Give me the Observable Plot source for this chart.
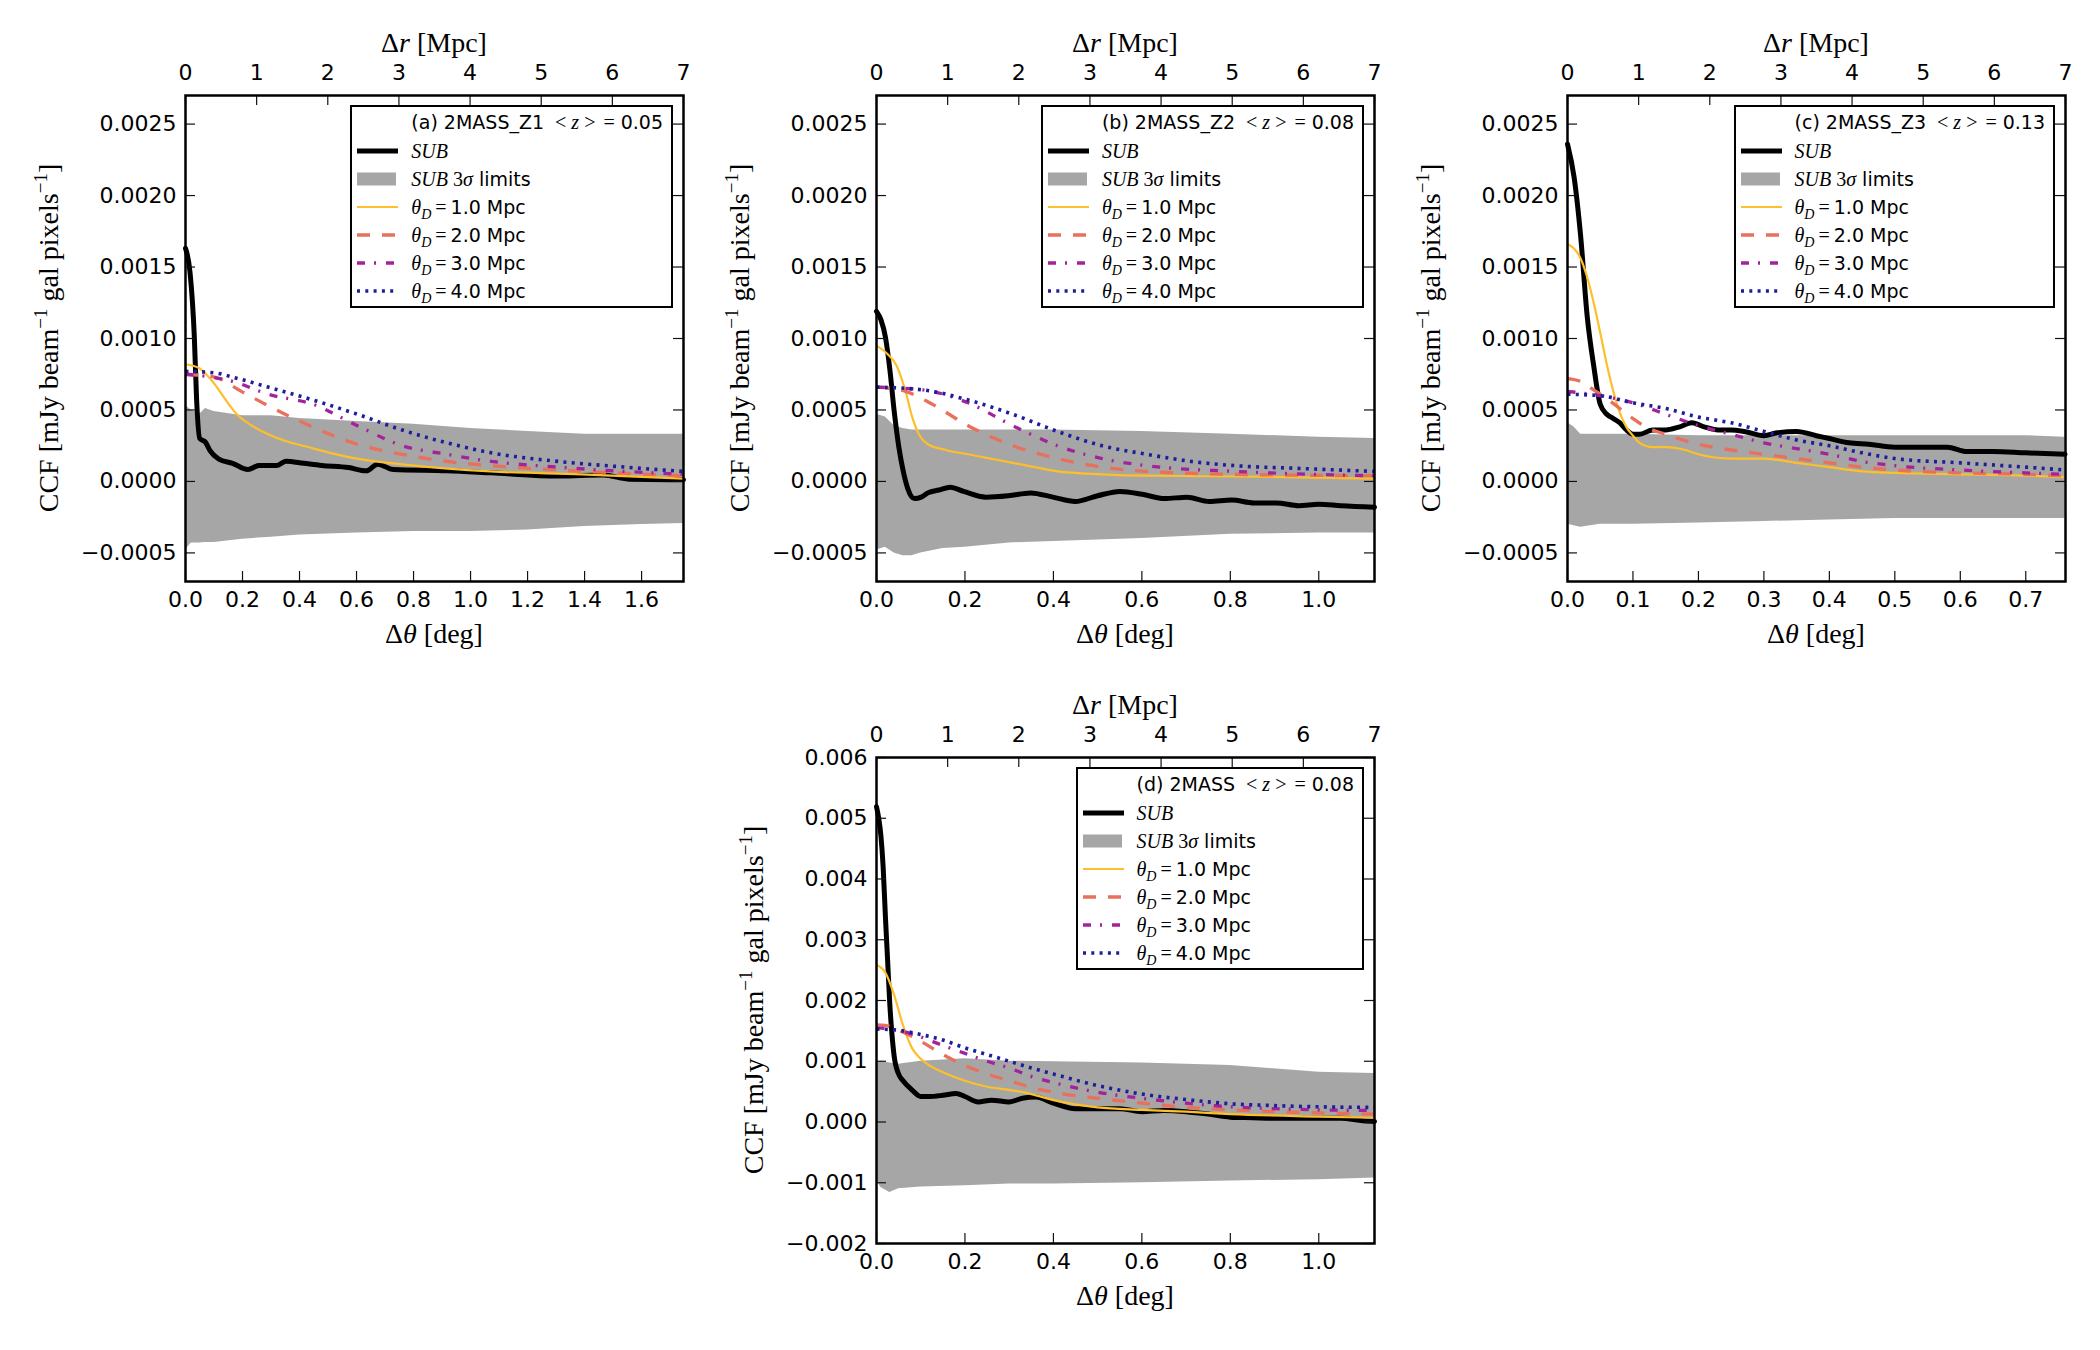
<!DOCTYPE html>
<html>
<head>
<meta charset="utf-8">
<script src="https://cdn.jsdelivr.net/npm/d3@7"></script>
<script src="https://cdn.jsdelivr.net/npm/@observablehq/plot@0.6"></script>
<style>
  body { margin: 0; background: #fff; }
  #fig { position: relative; width: 2100px; height: 1350px; background: #fff; overflow: hidden; color: #000; font-family: "DejaVu Sans", sans-serif; }
  .panel { position: absolute; }
  .lab { position: absolute; font-family: "Liberation Serif", serif; font-size: 28px; white-space: nowrap; transform: translate(-50%, -50%); line-height: 1; }
  .lab.rot { transform: translate(-50%, -50%) rotate(-90deg); }
  .lab sup { font-size: 0.68em; vertical-align: 0.6em; line-height: 0; }
  .legend { position: absolute; border: 2px solid #000; background: #fff; padding: 0 8px 1px 5px; font-family: "DejaVu Sans", sans-serif; font-size: 19px; }
  .legend .row { display: flex; align-items: center; height: 28px; white-space: nowrap; }
  .legend .row.first { height: 30px; }
  .legend .hd { width: 41px; height: 28px; margin-right: 13px; flex: none; display: block; }
  .m { font-family: "Liberation Serif", serif; font-size: 20px; }
  .legend sub { font-size: 0.7em; vertical-align: -0.35em; line-height: 0; }
  .gap { display: inline-block; }
</style>
</head>
<body>
<div id="fig"></div>
<script>
// ---- shared axis ticks ----
const mpcTicks = [0, 1, 2, 3, 4, 5, 6, 7];
const yTicksSmall = [-0.0005, 0, 0.0005, 0.001, 0.0015, 0.002, 0.0025];
const yTicksAll = [-0.002, -0.001, 0, 0.001, 0.002, 0.003, 0.004, 0.005, 0.006];
const xTicksA = [0, 0.2, 0.4, 0.6, 0.8, 1.0, 1.2, 1.4, 1.6];
const xTicksB = [0, 0.2, 0.4, 0.6, 0.8, 1.0];
const xTicksC = [0, 0.1, 0.2, 0.3, 0.4, 0.5, 0.6, 0.7];
const modelNames = ["1.0", "2.0", "3.0", "4.0"];

// ---- (a) 2MASS_Z1 ----
const subA = [[0,0.00163],[0.016,0.00146],[0.031,0.00101],[0.039,0.00057],[0.05,0.0003],[0.07,0.000275],[0.086,0.000215],[0.117,0.000156],[0.165,0.000127],[0.219,0.000083],[0.258,0.000112],[0.321,0.000112],[0.352,0.000142],[0.415,0.000127],[0.478,0.000112],[0.572,0.000097],[0.634,0.000074],[0.674,0.000121],[0.729,0.000083],[0.917,0.000074],[1.073,0.00006],[1.308,0.000038],[1.465,0.000045],[1.559,0.000015],[1.747,0.000012]];
const bandXA = [0, 0.02, 0.05, 0.07, 0.1, 0.2, 0.3, 0.4, 0.6, 0.8, 1.0, 1.2, 1.4, 1.6, 1.747];
const bandHiA = [0.00053, 0.0005, 0.00047, 0.00051, 0.00049, 0.00046, 0.00046, 0.00044, 0.00042, 0.0004, 0.00037, 0.00035, 0.00033, 0.00033, 0.00033];
const bandLoA = [-0.00048, -0.00043, -0.00043, -0.000428, -0.000428, -0.000404, -0.00039, -0.000375, -0.00036, -0.000351, -0.000351, -0.00034, -0.000316, -0.000301, -0.000295];
const mod1A = [[0,0.00082],[0.05,0.00079],[0.086,0.00072],[0.18,0.00047],[0.29,0.00033],[0.45,0.00023],[0.6,0.00016],[0.76,0.00012],[0.92,0.00009],[1.07,0.00007],[1.39,0.00005],[1.747,0.00002]];
const mod2A = [[0,0.00075],[0.102,0.00073],[0.196,0.00063],[0.29,0.00053],[0.447,0.00038],[0.603,0.00026],[0.76,0.00019],[0.917,0.00014],[1.073,0.00011],[1.308,0.00008],[1.747,0.00004]];
const mod3A = [[0,0.00075],[0.165,0.0007],[0.29,0.00061],[0.447,0.00054],[0.603,0.00039],[0.76,0.00025],[0.917,0.00019],[1.073,0.00014],[1.308,0.0001],[1.747,0.00005]];
const mod4A = [[0,0.00077],[0.102,0.00076],[0.165,0.00073],[0.29,0.00066],[0.447,0.00057],[0.603,0.00047],[0.76,0.00036],[0.917,0.00027],[1.073,0.0002],[1.308,0.00014],[1.543,0.0001],[1.747,0.00007]];

// ---- (b) 2MASS_Z2 ----
const subB = [[0,0.00119],[0.0101,0.00113],[0.0202,0.00101],[0.0303,0.00078],[0.0404,0.00048],[0.0505,0.00024],[0.0606,0.00007],[0.0707,-0.00005],[0.0859,-0.00012],[0.101,-0.00011],[0.1162,-0.00008],[0.1414,-0.00006],[0.1667,-0.00004],[0.197,-0.00007],[0.2475,-0.00011],[0.298,-0.0001],[0.3485,-0.00008],[0.399,-0.00011],[0.4495,-0.00014],[0.5,-0.0001],[0.5505,-0.00007],[0.601,-0.00009],[0.6515,-0.00012],[0.702,-0.00011],[0.7525,-0.00014],[0.803,-0.00013],[0.8535,-0.00015],[0.904,-0.00015],[0.9545,-0.00017],[1.0,-0.00016],[1.0505,-0.00017],[1.126,-0.00018]];
const bandXB = [0, 0.02, 0.04, 0.06, 0.08, 0.1, 0.15, 0.2, 0.3, 0.4, 0.6, 0.8, 1.0, 1.126];
const bandHiB = [0.00047, 0.00045, 0.00039, 0.00037, 0.00036, 0.00036, 0.00036, 0.00036, 0.00036, 0.00036, 0.00035, 0.00033, 0.00031, 0.0003];
const bandLoB = [-0.00048, -0.00046, -0.0005, -0.00052, -0.00052, -0.0005, -0.00047, -0.00046, -0.00043, -0.00042, -0.0004, -0.00037, -0.00036, -0.00036];
const mod1B = [[0,0.00095],[0.0253,0.00089],[0.0455,0.00081],[0.0657,0.00063],[0.0808,0.00045],[0.096,0.00033],[0.1162,0.00026],[0.1566,0.00022],[0.2071,0.00019],[0.2576,0.00016],[0.308,0.00013],[0.3586,0.0001],[0.409,0.00007],[0.51,0.00005],[0.611,0.00004],[0.813,0.000035],[1.126,0.00002]];
const mod2B = [[0,0.00066],[0.0657,0.00063],[0.1263,0.00054],[0.2071,0.00039],[0.308,0.00025],[0.409,0.00016],[0.51,0.0001],[0.611,0.00007],[0.813,0.00005],[1.126,0.00004]];
const mod3B = [[0,0.00066],[0.106,0.00064],[0.2071,0.00055],[0.308,0.00039],[0.409,0.00025],[0.51,0.00016],[0.611,0.00011],[0.813,0.00007],[1.126,0.00004]];
const mod4B = [[0,0.00066],[0.106,0.00064],[0.2071,0.00057],[0.308,0.00047],[0.409,0.00035],[0.51,0.00025],[0.611,0.00019],[0.712,0.00014],[0.813,0.00011],[0.965,0.00009],[1.126,0.00007]];

// ---- (c) 2MASS_Z3 ----
const subC = [[0,0.00236],[0.01,0.00213],[0.02,0.00172],[0.03,0.00116],[0.04,0.00081],[0.05,0.00054],[0.06,0.00047],[0.07,0.00044],[0.08,0.00041],[0.09,0.00036],[0.1,0.00033],[0.11,0.00033],[0.13,0.00036],[0.15,0.00036],[0.17,0.00038],[0.19,0.00041],[0.21,0.00038],[0.23,0.00036],[0.25,0.00036],[0.27,0.00035],[0.3,0.00032],[0.32,0.00034],[0.35,0.00035],[0.38,0.00032],[0.4,0.0003],[0.43,0.00027],[0.46,0.00026],[0.5,0.00024],[0.55,0.00024],[0.58,0.00024],[0.61,0.00021],[0.65,0.00021],[0.7,0.0002],[0.76,0.00019]];
const bandXC = [0, 0.01, 0.02, 0.05, 0.1, 0.2, 0.3, 0.4, 0.5, 0.6, 0.7, 0.76];
const bandHiC = [0.00041, 0.00038, 0.00033, 0.00033, 0.00033, 0.00032, 0.00032, 0.00032, 0.00032, 0.00032, 0.00032, 0.00031];
const bandLoC = [-0.0003, -0.00031, -0.00032, -0.0003, -0.0003, -0.00029, -0.00028, -0.00027, -0.00026, -0.00026, -0.00026, -0.00026];
const mod1C = [[0,0.00166],[0.01,0.00163],[0.02,0.00156],[0.03,0.00143],[0.04,0.00125],[0.05,0.00104],[0.06,0.00082],[0.07,0.00063],[0.08,0.00048],[0.09,0.00038],[0.1,0.00032],[0.11,0.00027],[0.13,0.00024],[0.15,0.00024],[0.18,0.00022],[0.2,0.00019],[0.25,0.00016],[0.3,0.00016],[0.35,0.00013],[0.4,0.0001],[0.45,0.00007],[0.5,0.00006],[0.6,0.00005],[0.7,0.00004],[0.76,0.00003]];
const mod2C = [[0,0.00072],[0.02,0.0007],[0.04,0.00064],[0.06,0.00058],[0.08,0.00051],[0.1,0.00044],[0.12,0.00038],[0.15,0.00033],[0.2,0.00026],[0.25,0.00022],[0.3,0.00019],[0.35,0.00016],[0.4,0.00013],[0.45,0.0001],[0.5,0.00008],[0.6,0.00006],[0.7,0.00005],[0.76,0.00004]];
const mod3C = [[0,0.00063],[0.05,0.0006],[0.1,0.00055],[0.15,0.00047],[0.2,0.00039],[0.25,0.00033],[0.3,0.00027],[0.35,0.00023],[0.4,0.00019],[0.45,0.00014],[0.5,0.00011],[0.6,0.00008],[0.7,0.00006],[0.76,0.00005]];
const mod4C = [[0,0.00061],[0.05,0.0006],[0.1,0.00055],[0.15,0.00051],[0.2,0.00045],[0.25,0.00041],[0.3,0.00035],[0.35,0.00029],[0.4,0.00025],[0.45,0.0002],[0.5,0.00016],[0.6,0.00013],[0.7,0.0001],[0.76,0.00008]];

// ---- (d) 2MASS ----
const subD = [[0,0.00519],[0.005,0.005],[0.01,0.00471],[0.015,0.0042],[0.02,0.0034],[0.025,0.00268],[0.03,0.00195],[0.035,0.00144],[0.04,0.00108],[0.05,0.00079],[0.06,0.00068],[0.08,0.00053],[0.1,0.00042],[0.12,0.00042],[0.15,0.00044],[0.18,0.00047],[0.2,0.00042],[0.23,0.00033],[0.26,0.00036],[0.3,0.00033],[0.33,0.00039],[0.36,0.00041],[0.4,0.00031],[0.45,0.00022],[0.5,0.00022],[0.55,0.00022],[0.6,0.00017],[0.65,0.00019],[0.7,0.00017],[0.75,0.00013],[0.8,0.00008],[0.85,0.00007],[0.9,0.00006],[0.95,0.00006],[1.0,0.00006],[1.05,0.00006],[1.1,0.00002],[1.126,0.00001]];
const bandXD = [0, 0.01, 0.03, 0.05, 0.1, 0.2, 0.3, 0.4, 0.6, 0.8, 1.0, 1.126];
const bandHiD = [0.00097, 0.001, 0.00097, 0.00095, 0.001, 0.00104, 0.001, 0.00099, 0.00097, 0.00093, 0.00082, 0.0008];
const bandLoD = [-0.00096, -0.00108, -0.00116, -0.0011, -0.00107, -0.00105, -0.00102, -0.00102, -0.001, -0.00097, -0.00095, -0.00092];
const mod1D = [[0,0.00259],[0.02,0.00246],[0.04,0.00209],[0.06,0.00159],[0.08,0.00122],[0.1,0.00104],[0.12,0.00093],[0.15,0.00082],[0.2,0.00068],[0.25,0.00058],[0.3,0.00053],[0.35,0.00046],[0.4,0.00036],[0.5,0.00024],[0.6,0.0002],[0.7,0.00017],[0.8,0.00013],[1.0,0.00009],[1.126,0.00007]];
const mod2D = [[0,0.0016],[0.02,0.00159],[0.05,0.00151],[0.1,0.00133],[0.15,0.00111],[0.2,0.00093],[0.25,0.00079],[0.3,0.00068],[0.35,0.00057],[0.4,0.00049],[0.5,0.00039],[0.6,0.00031],[0.7,0.00024],[0.8,0.0002],[0.9,0.00017],[1.0,0.00015],[1.126,0.00013]];
const mod3D = [[0,0.00155],[0.05,0.00151],[0.1,0.0014],[0.15,0.00126],[0.2,0.00113],[0.25,0.001],[0.3,0.00089],[0.35,0.00075],[0.4,0.00065],[0.5,0.00049],[0.6,0.00039],[0.7,0.00031],[0.8,0.00025],[0.9,0.00022],[1.0,0.0002],[1.126,0.00019]];
const mod4D = [[0,0.00153],[0.05,0.00151],[0.1,0.00144],[0.15,0.00135],[0.2,0.00122],[0.25,0.00111],[0.3,0.001],[0.35,0.00089],[0.4,0.00079],[0.5,0.0006],[0.6,0.00046],[0.7,0.00037],[0.8,0.0003],[0.9,0.00027],[1.0,0.00025],[1.126,0.00024]];

// ---- line styles ----
const subColor = "#000000";
const bandColor = "#a6a6a6";
const modelColors = ["#fdbf2a", "#e9705c", "#a2239c", "#1e1e9c"];
const modelDash = [null, "13,12", "8,9,2,10", "3,5.3"];
const modelWidth = [2.2, 3.3, 3.3, 3.6];

const panels = [
  { label: "(a) 2MASS_Z1", zmean: "0.05", left: 185, top: 95, xmax: 1.747, ydom: [-0.0007, 0.0027], yticks: yTicksSmall, yfmt: ".4f", xticks: xTicksA,
    sub: subA, bandX: bandXA, bandHi: bandHiA, bandLo: bandLoA, models: [mod1A, mod2A, mod3A, mod4A], ylabGap: 136 },
  { label: "(b) 2MASS_Z2", zmean: "0.08", left: 876, top: 95, xmax: 1.126, ydom: [-0.0007, 0.0027], yticks: yTicksSmall, yfmt: ".4f", xticks: xTicksB,
    sub: subB, bandX: bandXB, bandHi: bandHiB, bandLo: bandLoB, models: [mod1B, mod2B, mod3B, mod4B], ylabGap: 136 },
  { label: "(c) 2MASS_Z3", zmean: "0.13", left: 1567, top: 95, xmax: 0.7607, ydom: [-0.0007, 0.0027], yticks: yTicksSmall, yfmt: ".4f", xticks: xTicksC,
    sub: subC, bandX: bandXC, bandHi: bandHiC, bandLo: bandLoC, models: [mod1C, mod2C, mod3C, mod4C], ylabGap: 136 },
  { label: "(d) 2MASS", zmean: "0.08", left: 876, top: 757, xmax: 1.126, ydom: [-0.002, 0.006], yticks: yTicksAll, yfmt: ".3f", xticks: xTicksB,
    sub: subD, bandX: bandXD, bandHi: bandHiD, bandLo: bandLoD, models: [mod1D, mod2D, mod3D, mod4D], ylabGap: 122 }
];

const W = 498, H = 486;
const mL = 120, mR = 15, mT = 55, mB = 50;
const tickFont = { fontFamily: "DejaVu Sans", fontSize: 22 };
const fig = document.getElementById("fig");

function addLabel(html, x, y, rot) {
  const el = document.createElement("div");
  el.className = "lab" + (rot ? " rot" : "");
  el.style.left = x + "px";
  el.style.top = y + "px";
  el.innerHTML = html;
  fig.appendChild(el);
}

function handleSvg(kind, i) {
  if (kind === "sub") return `<svg class="hd"><line x1="0" x2="41" y1="14" y2="14" stroke="${subColor}" stroke-width="5"/></svg>`;
  if (kind === "band") return `<svg class="hd"><rect x="0" y="7.5" width="39" height="13" fill="${bandColor}"/></svg>`;
  const dash = modelDash[i] ? `stroke-dasharray="${modelDash[i]}"` : "";
  return `<svg class="hd"><line x1="0" x2="41" y1="14" y2="14" stroke="${modelColors[i]}" stroke-width="${modelWidth[i]}" ${dash}/></svg>`;
}

function addLegend(p) {
  const el = document.createElement("div");
  el.className = "legend";
  el.style.right = (2100 - (p.left + W - 10)) + "px";
  el.style.top = (p.top + 10) + "px";
  let html = `<div class="row first"><span class="hd"></span><span>${p.label}<span class="gap" style="width:11px"></span>` +
    `<span class="m">&lt;<i style="margin:0 5px">z</i>&gt;<span style="margin:0 6px 0 8px">=</span></span>${p.zmean}</span></div>`;
  html += `<div class="row">${handleSvg("sub")}<span class="m"><i>SUB</i></span></div>`;
  html += `<div class="row">${handleSvg("band")}<span><span class="m"><i>SUB</i> 3<i>σ</i></span> limits</span></div>`;
  modelNames.forEach((n, i) => {
    html += `<div class="row">${handleSvg("model", i)}<span><span class="m"><i>θ</i><sub><i>D</i></sub><span style="margin:0 4px 0 4px">=</span></span>${n} Mpc</span></div>`;
  });
  el.innerHTML = html;
  fig.appendChild(el);
}

panels.forEach(p => {
  const degPerMpc = p.xmax / 7;
  const mpcPos = mpcTicks.map(m => m * degPerMpc);
  const yfmt = d3.format(p.yfmt);
  const tickStyle = { stroke: "#111", strokeWidth: 1.2 };
  const marks = [
    Plot.areaY(p.bandX, { x: p.bandX, y1: p.bandLo, y2: p.bandHi, fill: bandColor, curve: "linear" }),
    Plot.line(p.sub, { x: d => d[0], y: d => d[1], stroke: subColor, strokeWidth: 5, curve: "monotone-x" })
  ];
  p.models.forEach((m, i) => {
    marks.push(Plot.line(m, {
      x: d => d[0], y: d => d[1], stroke: modelColors[i], strokeWidth: modelWidth[i],
      strokeDasharray: modelDash[i] || undefined, strokeLinecap: "butt", curve: "monotone-x"
    }));
  });
  marks.push(
    // inward-pointing ticks on all four sides
    Plot.tickX(p.xticks, { x: d => d, insetTop: H - 10, ...tickStyle }),
    Plot.tickX(mpcPos, { x: d => d, insetBottom: H - 10, ...tickStyle }),
    Plot.tickY(p.yticks, { y: d => d, insetRight: W - 10, ...tickStyle }),
    Plot.tickY(p.yticks, { y: d => d, insetLeft: W - 10, ...tickStyle }),
    Plot.axisX(p.xticks, { anchor: "bottom", tickSize: 0, tickPadding: 10, tickFormat: d3.format(".1f"), label: null, ...tickFont }),
    Plot.axisX(mpcPos, { anchor: "top", tickSize: 0, tickPadding: 16, tickFormat: d => String(Math.round(d / degPerMpc)), label: null, ...tickFont }),
    Plot.axisY(p.yticks, { anchor: "left", tickSize: 0, tickPadding: 9, tickFormat: yfmt, label: null, ...tickFont }),
    Plot.frame({ stroke: "#000", strokeWidth: 2.5 })
  );
  const chart = Plot.plot({
    width: W + mL + mR, height: H + mT + mB,
    marginLeft: mL, marginRight: mR, marginTop: mT, marginBottom: mB,
    x: { domain: [0, p.xmax] },
    y: { domain: p.ydom },
    style: { fontFamily: "DejaVu Sans", fontSize: "22px", color: "#000", background: "transparent", overflow: "visible" },
    marks
  });
  const wrap = document.createElement("div");
  wrap.className = "panel";
  wrap.style.left = (p.left - mL) + "px";
  wrap.style.top = (p.top - mT) + "px";
  wrap.appendChild(chart);
  fig.appendChild(wrap);

  addLabel(`Δ<i>r</i> [Mpc]`, p.left + W / 2, p.top - 52);
  addLabel(`Δ<i>θ</i> [deg]`, p.left + W / 2, p.top + H + 53);
  addLabel(`CCF [mJy beam<sup>−1</sup> gal pixels<sup>−1</sup>]`, p.left - p.ylabGap, p.top + H / 2, true);
  addLegend(p);
});
</script>
</body>
</html>
